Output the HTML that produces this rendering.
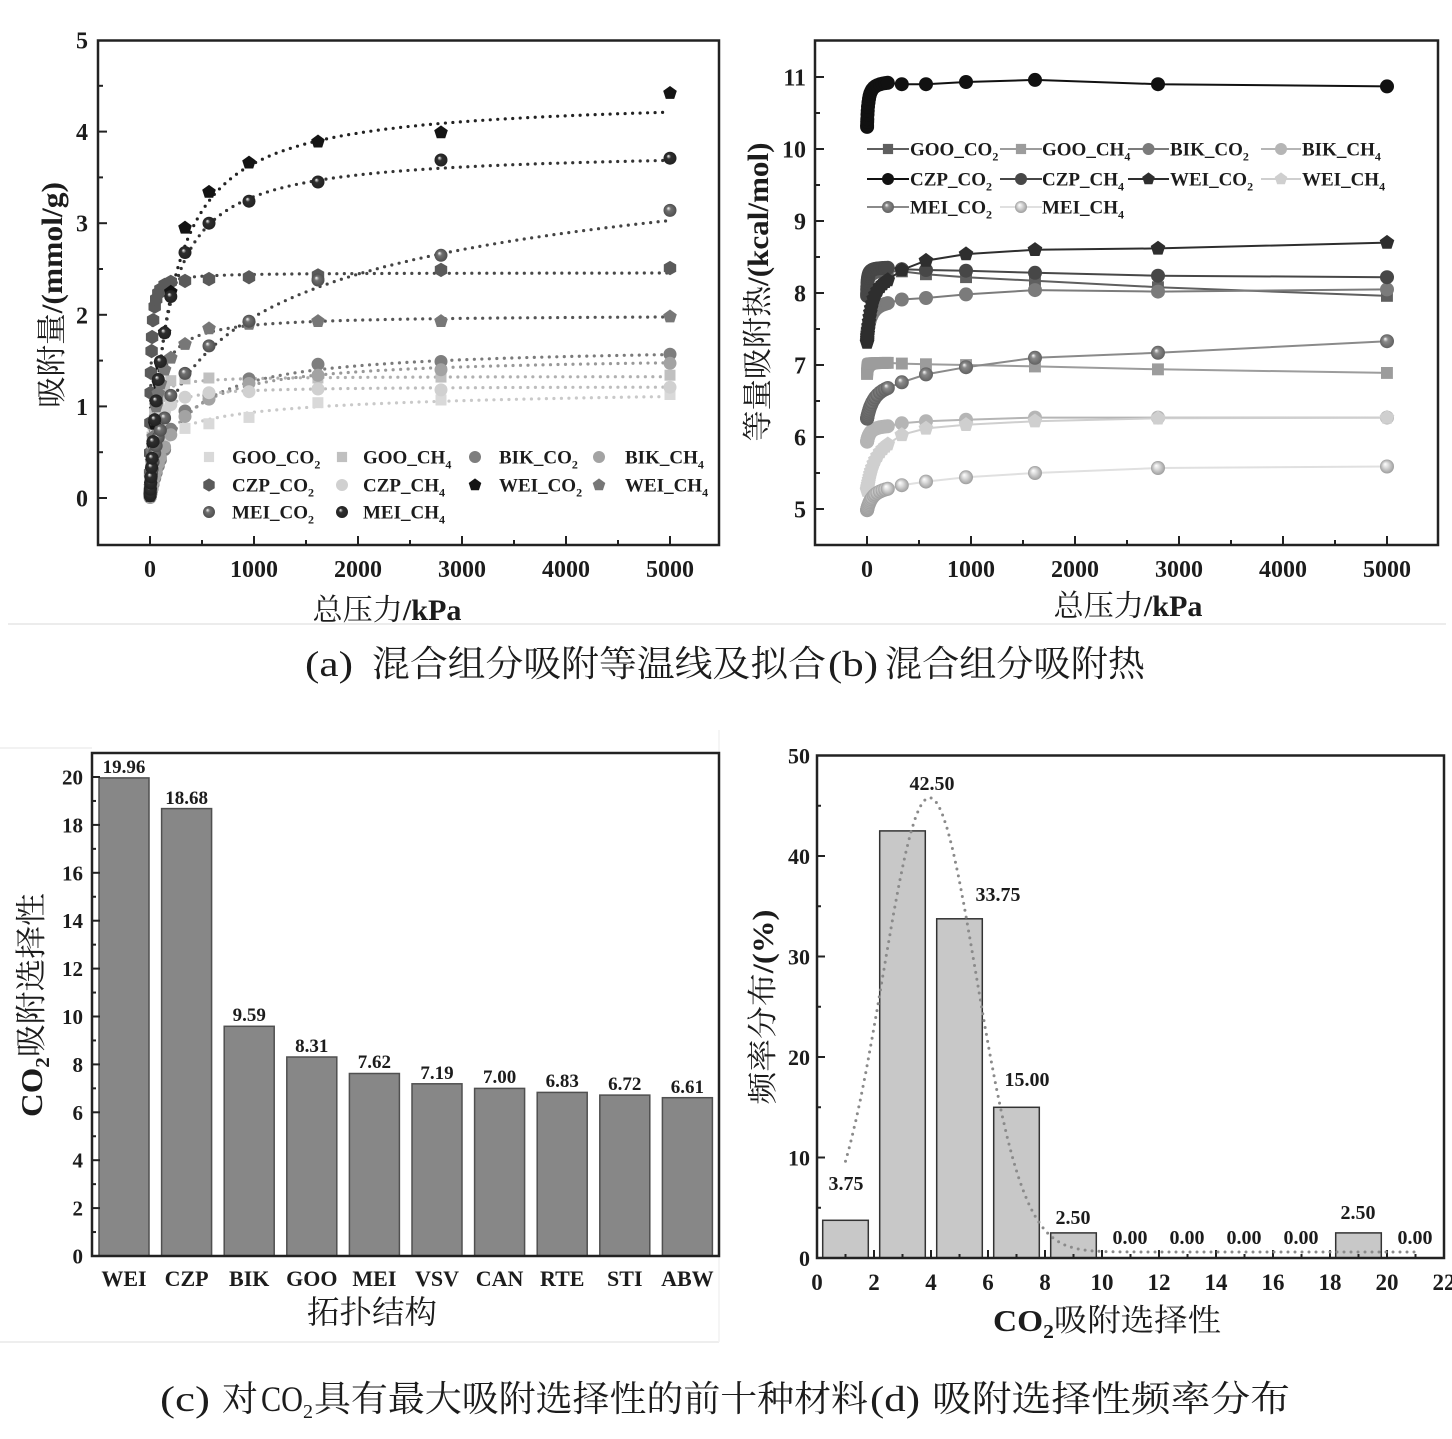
<!DOCTYPE html>
<html><head><meta charset="utf-8">
<style>
html,body{margin:0;padding:0;background:#fff;}
svg{display:block;}
.b{font-family:"Liberation Serif","Noto Serif CJK SC",serif;font-weight:bold;fill:#1c1c1c;}
.z{font-family:"Liberation Serif","Noto Serif CJK SC",serif;font-weight:normal;fill:#1c1c1c;}
.l{font-family:"Liberation Serif",serif;font-weight:normal;fill:#1c1c1c;}
</style></head><body>
<svg id="s" width="1452" height="1439" viewBox="0 0 1452 1439" xmlns="http://www.w3.org/2000/svg">
<defs id="defs"></defs>
<rect x="0" y="0" width="1452" height="1439" fill="#fff"/>
<!-- faint figure borders -->
<line x1="8" y1="624" x2="1446" y2="624" stroke="#ececec" stroke-width="2"/>
<line x1="0" y1="748" x2="92" y2="748" stroke="#eeeeee" stroke-width="1.5"/>
<line x1="0" y1="1342" x2="719" y2="1342" stroke="#eeeeee" stroke-width="2"/>
<line x1="719" y1="730" x2="719" y2="1342" stroke="#f2f2f2" stroke-width="1.5"/>

<!-- Panel c bars -->
<g fill="#878787" stroke="#505050" stroke-width="1.5">
<rect x="99" y="777.9" width="50" height="478.1"/>
<rect x="161.6" y="808.6" width="50" height="447.4"/>
<rect x="224.2" y="1026.3" width="50" height="229.7"/>
<rect x="286.8" y="1057" width="50" height="199"/>
<rect x="349.4" y="1073.5" width="50" height="182.5"/>
<rect x="412" y="1083.8" width="50" height="172.2"/>
<rect x="474.6" y="1088.4" width="50" height="167.6"/>
<rect x="537.2" y="1092.4" width="50" height="163.6"/>
<rect x="599.8" y="1095.1" width="50" height="160.9"/>
<rect x="662.4" y="1097.7" width="50" height="158.3"/>
</g>
<!-- Panel d bars -->
<g fill="#c8c8c8" stroke="#333" stroke-width="1.5">
<rect x="822.7" y="1220.3" width="45.6" height="37.7"/>
<rect x="879.7" y="830.9" width="45.6" height="427.1"/>
<rect x="936.7" y="918.8" width="45.6" height="339.2"/>
<rect x="993.7" y="1107.3" width="45.6" height="150.7"/>
<rect x="1050.7" y="1232.9" width="45.6" height="25.1"/>
<rect x="1335.7" y="1232.9" width="45.6" height="25.1"/>
</g>

<g id="g"></g>

<!-- frames -->
<g fill="none" stroke="#222" stroke-width="2.5">
<rect x="98" y="40.5" width="621" height="504.5"/>
<rect x="815" y="40.5" width="623" height="504.5"/>
<rect x="92" y="753" width="627" height="503"/>
<rect x="817" y="755.5" width="627" height="502.5"/>
</g>

<!-- Panel a tick labels -->
<g class="b" font-size="24" text-anchor="end">
<text x="88" y="48.5">5</text>
<text x="88" y="140.1">4</text>
<text x="88" y="231.7">3</text>
<text x="88" y="323.3">2</text>
<text x="88" y="414.9">1</text>
<text x="88" y="506.5">0</text>
</g>
<g class="b" font-size="24" text-anchor="middle">
<text x="150" y="577">0</text>
<text x="254" y="577">1000</text>
<text x="358" y="577">2000</text>
<text x="462" y="577">3000</text>
<text x="566" y="577">4000</text>
<text x="670" y="577">5000</text>
</g>
<text class="z" x="387" y="620" font-size="30" text-anchor="middle" textLength="149" lengthAdjust="spacingAndGlyphs">总压力<tspan class="b">/kPa</tspan></text>
<g transform="translate(51,295) rotate(-90)">
<text class="z" x="0" y="11" font-size="30" text-anchor="middle" textLength="226" lengthAdjust="spacingAndGlyphs">吸附量<tspan class="b">/(mmol/g)</tspan></text>
</g>
<!-- Panel a legend text -->
<g class="b" font-size="19">
<text x="232" y="463.5">GOO_CO<tspan font-size="12" dy="5">2</tspan></text>
<text x="363" y="463.5">GOO_CH<tspan font-size="12" dy="5">4</tspan></text>
<text x="499" y="463.5">BIK_CO<tspan font-size="12" dy="5">2</tspan></text>
<text x="625" y="463.5">BIK_CH<tspan font-size="12" dy="5">4</tspan></text>
<text x="232" y="491.5">CZP_CO<tspan font-size="12" dy="5">2</tspan></text>
<text x="363" y="491.5">CZP_CH<tspan font-size="12" dy="5">4</tspan></text>
<text x="499" y="491.5">WEI_CO<tspan font-size="12" dy="5">2</tspan></text>
<text x="625" y="491.5">WEI_CH<tspan font-size="12" dy="5">4</tspan></text>
<text x="232" y="518.5">MEI_CO<tspan font-size="12" dy="5">2</tspan></text>
<text x="363" y="518.5">MEI_CH<tspan font-size="12" dy="5">4</tspan></text>
</g>

<!-- Panel b tick labels -->
<g class="b" font-size="24" text-anchor="end">
<text x="806" y="85.5">11</text>
<text x="806" y="157.5">10</text>
<text x="806" y="229.5">9</text>
<text x="806" y="301.5">8</text>
<text x="806" y="373.5">7</text>
<text x="806" y="445.5">6</text>
<text x="806" y="517.5">5</text>
</g>
<g class="b" font-size="24" text-anchor="middle">
<text x="867" y="577">0</text>
<text x="971" y="577">1000</text>
<text x="1075" y="577">2000</text>
<text x="1179" y="577">3000</text>
<text x="1283" y="577">4000</text>
<text x="1387" y="577">5000</text>
</g>
<text class="z" x="1128" y="616" font-size="30" text-anchor="middle" textLength="149" lengthAdjust="spacingAndGlyphs">总压力<tspan class="b">/kPa</tspan></text>
<g transform="translate(757,292) rotate(-90)">
<text class="z" x="0" y="11" font-size="30" text-anchor="middle" textLength="299" lengthAdjust="spacingAndGlyphs">等量吸附热<tspan class="b">/(kcal/mol)</tspan></text>
</g>
<!-- Panel b legend text -->
<g class="b" font-size="19">
<text x="910" y="155.5">GOO_CO<tspan font-size="12" dy="5">2</tspan></text>
<text x="1042" y="155.5">GOO_CH<tspan font-size="12" dy="5">4</tspan></text>
<text x="1170" y="155.5">BIK_CO<tspan font-size="12" dy="5">2</tspan></text>
<text x="1302" y="155.5">BIK_CH<tspan font-size="12" dy="5">4</tspan></text>
<text x="910" y="185.5">CZP_CO<tspan font-size="12" dy="5">2</tspan></text>
<text x="1042" y="185.5">CZP_CH<tspan font-size="12" dy="5">4</tspan></text>
<text x="1170" y="185.5">WEI_CO<tspan font-size="12" dy="5">2</tspan></text>
<text x="1302" y="185.5">WEI_CH<tspan font-size="12" dy="5">4</tspan></text>
<text x="910" y="213.5">MEI_CO<tspan font-size="12" dy="5">2</tspan></text>
<text x="1042" y="213.5">MEI_CH<tspan font-size="12" dy="5">4</tspan></text>
</g>

<!-- Caption a/b -->
<g font-size="36">
<text class="l" x="305" y="676" textLength="48" lengthAdjust="spacingAndGlyphs">(a)</text>
<text class="z" x="372" y="676" textLength="454" lengthAdjust="spacingAndGlyphs">混合组分吸附等温线及拟合</text>
<text class="l" x="828" y="676" textLength="50" lengthAdjust="spacingAndGlyphs">(b)</text>
<text class="z" x="885" y="676" textLength="260" lengthAdjust="spacingAndGlyphs">混合组分吸附热</text>
</g>

<!-- Panel c labels -->
<g class="b" font-size="21" text-anchor="end">
<text x="83" y="1263.5">0</text>
<text x="83" y="1215.6">2</text>
<text x="83" y="1167.7">4</text>
<text x="83" y="1119.8">6</text>
<text x="83" y="1071.9">8</text>
<text x="83" y="1024">10</text>
<text x="83" y="976.1">12</text>
<text x="83" y="928.2">14</text>
<text x="83" y="880.3">16</text>
<text x="83" y="832.4">18</text>
<text x="83" y="784.5">20</text>
</g>
<g class="b" font-size="22" text-anchor="middle">
<text x="124" y="1286">WEI</text>
<text x="186.6" y="1286">CZP</text>
<text x="249.2" y="1286">BIK</text>
<text x="311.8" y="1286">GOO</text>
<text x="374.4" y="1286">MEI</text>
<text x="437" y="1286">VSV</text>
<text x="499.6" y="1286">CAN</text>
<text x="562.2" y="1286">RTE</text>
<text x="624.8" y="1286">STI</text>
<text x="687.4" y="1286">ABW</text>
</g>
<g class="b" font-size="19" text-anchor="middle">
<text x="124" y="773">19.96</text>
<text x="186.6" y="804">18.68</text>
<text x="249.2" y="1021">9.59</text>
<text x="311.8" y="1052">8.31</text>
<text x="374.4" y="1068">7.62</text>
<text x="437" y="1079">7.19</text>
<text x="499.6" y="1083">7.00</text>
<text x="562.2" y="1087">6.83</text>
<text x="624.8" y="1090">6.72</text>
<text x="687.4" y="1093">6.61</text>
</g>
<text class="z" x="372" y="1323" font-size="32" text-anchor="middle" textLength="130" lengthAdjust="spacingAndGlyphs">拓扑结构</text>
<g transform="translate(31,1005) rotate(-90)">
<text class="z" x="0" y="11" font-size="31" text-anchor="middle" textLength="224" lengthAdjust="spacingAndGlyphs"><tspan class="b">CO</tspan><tspan class="b" font-size="20" dy="7">2</tspan><tspan dy="-7">吸附选择性</tspan></text>
</g>

<!-- Panel d labels -->
<g class="b" font-size="22" text-anchor="end">
<text x="810" y="1266">0</text>
<text x="810" y="1165.5">10</text>
<text x="810" y="1065">20</text>
<text x="810" y="964.5">30</text>
<text x="810" y="864">40</text>
<text x="810" y="763.5">50</text>
</g>
<g class="b" font-size="23" text-anchor="middle">
<text x="817" y="1290">0</text>
<text x="874" y="1290">2</text>
<text x="931" y="1290">4</text>
<text x="988" y="1290">6</text>
<text x="1045" y="1290">8</text>
<text x="1102" y="1290">10</text>
<text x="1159" y="1290">12</text>
<text x="1216" y="1290">14</text>
<text x="1273" y="1290">16</text>
<text x="1330" y="1290">18</text>
<text x="1387" y="1290">20</text>
<text x="1444" y="1290">22</text>
</g>
<g class="b" font-size="20" text-anchor="middle">
<text x="846" y="1190">3.75</text>
<text x="932" y="790">42.50</text>
<text x="998" y="901">33.75</text>
<text x="1027" y="1086">15.00</text>
<text x="1073" y="1224">2.50</text>
<text x="1130" y="1244">0.00</text>
<text x="1187" y="1244">0.00</text>
<text x="1244" y="1244">0.00</text>
<text x="1301" y="1244">0.00</text>
<text x="1358" y="1219">2.50</text>
<text x="1415" y="1244">0.00</text>
</g>
<text class="z" x="1107" y="1331" font-size="31" text-anchor="middle" textLength="228" lengthAdjust="spacingAndGlyphs"><tspan class="b">CO</tspan><tspan class="b" font-size="20" dy="7">2</tspan><tspan dy="-7">吸附选择性</tspan></text>
<g transform="translate(762,1007) rotate(-90)">
<text class="z" x="0" y="11" font-size="30" text-anchor="middle" textLength="195" lengthAdjust="spacingAndGlyphs">频率分布<tspan class="b">/(%)</tspan></text>
</g>

<!-- Caption c/d -->
<g font-size="36">
<text class="l" x="160" y="1411" textLength="50" lengthAdjust="spacingAndGlyphs">(c)</text>
<text class="z" x="222" y="1411" textLength="36" lengthAdjust="spacingAndGlyphs">对</text>
<text class="l" x="261" y="1411" textLength="42" lengthAdjust="spacingAndGlyphs">CO</text>
<text class="l" x="303" y="1418" font-size="20">2</text>
<text class="z" x="314" y="1411" textLength="554" lengthAdjust="spacingAndGlyphs">具有最大吸附选择性的前十种材料</text>
<text class="l" x="870" y="1411" textLength="50" lengthAdjust="spacingAndGlyphs">(d)</text>
<text class="z" x="932" y="1411" textLength="358" lengthAdjust="spacingAndGlyphs">吸附选择性频率分布</text>
</g>
</svg>
<script>
(function(){
const NS="http://www.w3.org/2000/svg";
const defs=document.getElementById('defs');
const G=document.getElementById('g');
function el(t,a,p){const e=document.createElementNS(NS,t);for(const k in a)e.setAttribute(k,a[k]);(p||G).appendChild(e);return e;}
function ln(x1,y1,x2,y2,c,w){el('line',{x1:x1,y1:y1,x2:x2,y2:y2,stroke:c||'#222','stroke-width':w||2});}
function shade(hex,f){const n=parseInt(hex.slice(1),16);let r=n>>16,g=(n>>8)&255,b=n&255;return 'rgb('+Math.round(r*f)+','+Math.round(g*f)+','+Math.round(b*f)+')';}
let gi=0;
function sph(col){const id='sp'+(gi++);const rg=el('radialGradient',{id:id,cx:'0.5',cy:'0.5',r:'0.5',fx:'0.36',fy:'0.32'},defs);
 el('stop',{offset:'0','stop-color':'#ffffff'},rg);el('stop',{offset:'0.35','stop-color':col},rg);el('stop',{offset:'1','stop-color':shade(col,0.7)},rg);return 'url(#'+id+')';}
function mk(s,x,y,r,fill){
 if(s==='sq'){el('rect',{x:(x-r*0.85).toFixed(1),y:(y-r*0.85).toFixed(1),width:(r*1.7).toFixed(1),height:(r*1.7).toFixed(1),fill:fill});}
 else if(s==='pent'||s==='hex'){const n=s==='pent'?5:6;const pts=[];for(let i=0;i<n;i++){const a=(-90+i*360/n)*Math.PI/180;pts.push((x+r*1.1*Math.cos(a)).toFixed(1)+','+(y+r*1.1*Math.sin(a)).toFixed(1));}el('polygon',{points:pts.join(' '),fill:fill});}
 else {el('circle',{cx:x.toFixed(1),cy:y.toFixed(1),r:r,fill:fill});}
}
// ---- ticks ----
for(let i=0;i<=10;i++){const v=i*0.5;const y=498-v*91.6;const M=(i%2===0);if(y<42)continue;ln(98,y,98+(M?9:5),y);}
for(let i=0;i<=10;i++){const P=i*500;const x=150+P*0.104;const M=(i%2===0);ln(x,545,x,545-(M?9:5));}
for(let i=0;i<=13;i++){const v=5+i*0.5;const y=509-(v-5)*72;const M=(i%2===0);if(y<42)continue;ln(815,y,815+(M?9:5),y);}
for(let i=0;i<=10;i++){const P=i*500;const x=867+P*0.104;const M=(i%2===0);ln(x,545,x,545-(M?9:5));}
for(let v=1;v<=20;v++){const y=1256-v*23.95;const M=(v%2===0);ln(92,y,92+(M?8:4),y);}
for(let v=5;v<=45;v+=5){const y=1258-v*10.05;const M=(v%10===0);ln(817,y,817+(M?8:4),y);}
for(let v=1;v<=21;v++){const x=817+v*28.5;const M=(v%2===0);ln(x,1258,x,1258-(M?8:4));}

// ---- panel a ----
const xa=P=>150+P*0.104, ya=q=>498-q*91.6;
const A=[
 {s:'sq',c:'#d9d9d9',lc:'#c9c9c9',f:P=>{const t=Math.sqrt(P/150);return 1.3*t/(1+t);},hi:[0.71,0.76,0.81,0.88,1.04,1.07,1.13]},
 {s:'sq',c:'#c0c0c0',lc:'#b0b0b0',f:P=>1.33*P/(20+P),hi:[1.28,1.30,1.31,1.28,1.31,1.32,1.34]},
 {s:'c',c:'#7e7e7e',lc:'#7a7a7a',f:P=>1.66*P/(300+P),hi:[0.75,0.95,1.12,1.30,1.46,1.49,1.57]},
 {s:'c',c:'#a3a3a3',lc:'#999999',f:P=>1.55*P/(250+P),hi:[0.69,0.89,1.08,1.25,1.34,1.40,1.47]},
 {s:'hex',c:'#5a5a5a',lc:'#474747',f:P=>2.46*P/(8+P),hi:[2.36,2.37,2.39,2.41,2.43,2.49,2.51]},
 {s:'c',c:'#d0d0d0',lc:'#bdbdbd',f:P=>1.22*P/(40+P),hi:[1.02,1.10,1.15,1.16,1.19,1.18,1.21]},
 {s:'pent',c:'#141414',lc:'#222222',f:P=>4.38*P/(199+P),hi:[2.25,2.95,3.34,3.66,3.89,3.99,4.42]},
 {s:'pent',c:'#777777',lc:'#555555',f:P=>2.0*P/(60+P),hi:[1.53,1.68,1.85,1.90,1.93,1.93,1.98]},
 {s:'sph',c:'#707070',lc:'#444444',f:P=>{const t=Math.pow(P/1500,0.6);return 4.5*t/(1+t);},hi:[1.12,1.36,1.66,1.93,2.38,2.65,3.14]},
 {s:'sph',c:'#2f2f2f',lc:'#333333',f:P=>3.8*P/(155+P),hi:[2.2,2.68,3.0,3.24,3.45,3.69,3.71]}
];
const PAlow=[1,2,4,7,10,15,20,30,45,60,80,100,140];
const PAhi=[200,337,567,952,1615,2798,5000];
A.forEach(S=>{const pts=[];for(let i=0;i<=400;i++){const t=i/400;const P=5000*t*t;pts.push(xa(P).toFixed(1)+','+ya(S.f(P)).toFixed(1));}
 el('polyline',{points:pts.join(' '),fill:'none',stroke:S.lc,'stroke-width':3.2,'stroke-dasharray':'0 7.5','stroke-linecap':'round'});});
A.forEach(S=>{S.fill=S.s==='sph'?sph(S.c):S.c;
 PAlow.forEach(P=>mk(S.s,xa(P),ya(S.f(P)),6.5,S.fill));
 PAhi.forEach((P,i)=>mk(S.s,xa(P),ya(S.hi[i]),6.5,S.fill));});
const LAx=[209,342,475,599],LAy=[457,485,512];
A.forEach((S,i)=>{mk(S.s,LAx[i%4],LAy[Math.floor(i/4)],6,S.fill);});

// ---- panel b ----
const xb=P=>867+P*0.104, yb=v=>509-(v-5)*72;
const B=[
 {s:'sq',c:'#5f5f5f',v0:8.0,v1:8.3,k:5,hi:[8.30,8.26,8.22,8.17,8.08,7.96]},
 {s:'sq',c:'#9c9c9c',v0:6.85,v1:7.03,k:3,hi:[7.02,7.01,7.00,6.98,6.94,6.89]},
 {s:'c',c:'#7b7b7b',v0:7.4,v1:7.86,k:40,hi:[7.91,7.93,7.98,8.04,8.02,8.05]},
 {s:'c',c:'#b5b5b5',v0:5.93,v1:6.15,k:30,hi:[6.19,6.22,6.24,6.27,6.27,6.27]},
 {s:'c',c:'#111111',v0:10.28,v1:10.92,k:12,hi:[10.9,10.9,10.93,10.96,10.9,10.87]},
 {s:'c',c:'#474747',v0:7.92,v1:8.35,k:5,hi:[8.33,8.32,8.31,8.28,8.24,8.22]},
 {s:'pent',c:'#2e2e2e',v0:7.3,v1:8.18,k:50,hi:[8.32,8.45,8.54,8.6,8.62,8.7]},
 {s:'pent',c:'#cfcfcf',v0:5.25,v1:5.9,k:100,hi:[6.03,6.12,6.17,6.22,6.26,6.27]},
 {s:'sph',c:'#8a8a8a',v0:6.25,v1:6.68,k:80,hi:[6.76,6.87,6.97,7.1,7.17,7.33]},
 {s:'sph',c:'#e0e0e0',v0:4.98,v1:5.28,k:60,hi:[5.33,5.38,5.44,5.5,5.57,5.59]}
];
const PBlow=[0.5,1,2,3,5,7,10,14,19,25,32,40,50,65,80,100,125,150,175,200];
const PBhi=[335,567,952,1615,2798,5000];
B.forEach(S=>{S.fill=S.s==='sph'?sph(S.c):S.c;
 const norm=200/(S.k+200);
 const P=[],V=[];
 PBlow.forEach(p=>{P.push(p);V.push(S.v0+(S.v1-S.v0)*(p/(S.k+p))/norm);});
 PBhi.forEach((p,i)=>{P.push(p);V.push(S.hi[i]);});
 const pts=P.map((p,i)=>xb(p).toFixed(1)+','+yb(V[i]).toFixed(1));
 el('polyline',{points:pts.join(' '),fill:'none',stroke:S.c,'stroke-width':2});
 P.forEach((p,i)=>mk(S.s,xb(p),yb(V[i]),7,S.fill));
});
const LBx=[[867,909],[1000,1042],[1128,1169],[1261,1301]],LBy=[149,179,207];
B.forEach((S,i)=>{const c=LBx[i%4],y=LBy[Math.floor(i/4)];ln(c[0],y,c[1],y,S.c,2);mk(S.s,(c[0]+c[1])/2,y,6,S.fill);});

// ---- panel d gaussian ----
const gp=[];for(let x=1;x<=21.0001;x+=0.05){const v=0.6+45.2*Math.exp(-Math.pow(x-3.95,2)/5.4);gp.push((817+x*28.5).toFixed(1)+','+(1258-v*10.05).toFixed(1));}
el('polyline',{points:gp.join(' '),fill:'none',stroke:'#8a8a8a','stroke-width':3,'stroke-dasharray':'0 7','stroke-linecap':'round'});
})();
</script>
</body></html>
